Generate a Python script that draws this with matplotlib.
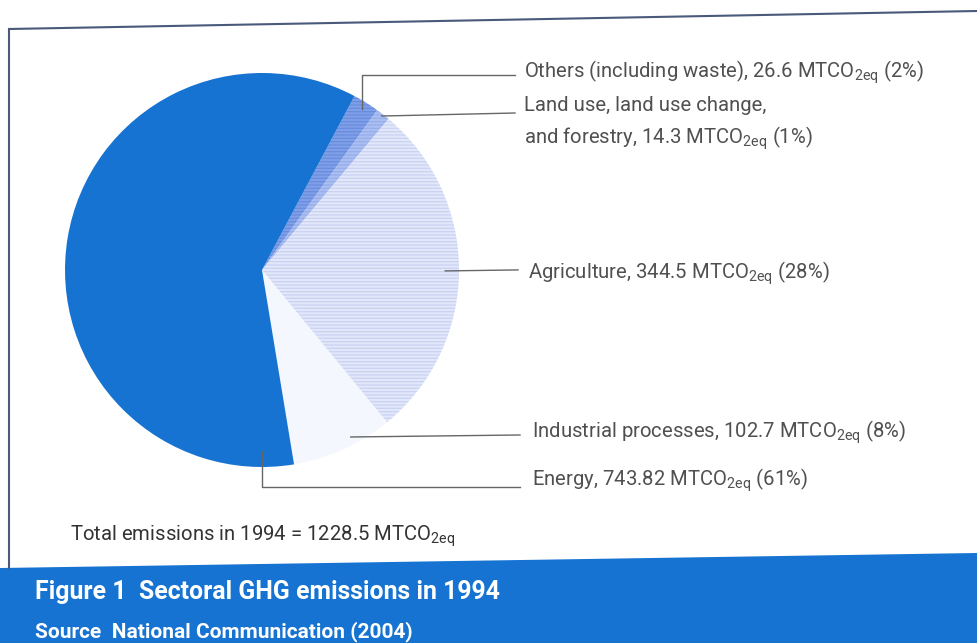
import numpy as np
import matplotlib
matplotlib.use("Agg")
import matplotlib.pyplot as plt
from matplotlib.patches import Polygon

plt.rcParams['font.family'] = ['Roboto', 'DejaVu Sans']
plt.rcParams['mathtext.default'] = 'regular'
plt.rcParams['hatch.linewidth'] = 0.9

# sectors, clockwise from the top
sectors = ['Others (including waste)', 'Land use, land use change,\nand forestry',
           'Agriculture', 'Industrial processes', 'Energy']
emissions = [26.6, 14.3, 344.5, 102.7, 743.82]
shares = [2, 1, 28, 8, 61]
value_text = ['26.6', '14.3', '344.5', '102.7', '743.82']
total = 1228.5

colors = ['#7f9fe6', '#aabef0', '#e2e8fa', '#f4f7fd', '#1673d1']
hatch_colors = ['#6a8ce0', '#97aeec', '#c9d3f3', '#f4f7fd', '#1673d1']
hatches = ['-----', '-----', '-----', None, None]

W, H = 977, 643
fig = plt.figure(figsize=(W / 100, H / 100), dpi=100)

# pie axes: centre (262, 270) px, radius 197 px
cx, cy, R = 262, 270, 197
pax = fig.add_axes([(cx - R) / W, (H - cy - R) / H, 2 * R / W, 2 * R / H])
wedges, _ = pax.pie(emissions, startangle=62, counterclock=False, radius=1.0,
                    colors=colors, wedgeprops=dict(linewidth=0))
for w, hc, h in zip(wedges, hatch_colors, hatches):
    w.set_edgecolor(hc)
    w.set_linewidth(0)
    if h:
        w.set_hatch(h)
pax.set_xlim(-1, 1)
pax.set_ylim(-1, 1)
pax.set_aspect('equal')
pax.axis('off')

# overlay in pixel coordinates for frame, leaders and captions
ov = fig.add_axes([0, 0, 1, 1], zorder=5)
ov.set_xlim(0, W)
ov.set_ylim(H, 0)
ov.axis('off')
ov.patch.set_alpha(0)

# frame and caption band
ov.plot([9, W], [29, 11], color='#4a5a7a', lw=1.5, solid_capstyle='butt')
ov.plot([9, 9], [29, 568], color='#4a5a7a', lw=1.5)
ov.add_patch(Polygon([(0, 568), (W, 553), (W, H), (0, H)], closed=True,
                     facecolor='#1673d1', edgecolor='none'))


def wedge_point(i, r, ang=None):
    w = wedges[i]
    if ang is None:
        ang = (w.theta1 + w.theta2) / 2
    a = np.deg2rad(ang)
    return cx + R * r * np.cos(a), cy - R * r * np.sin(a)


line_kw = dict(color='#666666', lw=1.0)
label_kw = dict(fontsize=14.6, color='#505050', va='center', ha='left')

# Others: elbow up then right
x0, y0 = wedge_point(0, 0.96)
ov.plot([x0, x0, 515], [y0, 75, 75], **line_kw)
# Land use
x0, y0 = wedge_point(1, 0.99)
ov.plot([x0, 515], [y0, 113], **line_kw)
# Agriculture
x0, y0 = wedge_point(2, 0.93)
ov.plot([x0, 518], [y0, y0 - 1], **line_kw)
# Industrial
x0, y0 = wedge_point(3, 0.96, ang=-62)
ov.plot([x0, 520], [y0, y0 - 2], **line_kw)
# Energy: elbow down then right
x0, y0 = wedge_point(4, 0.92, ang=-90)
ov.plot([x0, x0, 520], [y0, 487, 487], **line_kw)

sub = r'MTCO$_{2eq}$'
label_pos = [(524, 72), (524, 124), (528, 273), (532, 432), (532, 480)]
for name, val, sh, (lx, ly) in zip(sectors, value_text, shares, label_pos):
    ov.text(lx, ly, f'{name}, {val} {sub} ({sh}%)', linespacing=1.45, **label_kw)

ov.text(70, 536, f'Total emissions in 1994 = {total} {sub}', fontsize=14.6,
        color='#333333', va='center', ha='left')

ov.text(35, 592, 'Figure 1  Sectoral GHG emissions in 1994', fontsize=17.9,
        fontweight='bold', color='white', va='center', ha='left')
ov.text(35, 632, 'Source  National Communication (2004)', fontsize=15,
        fontweight='bold', color='white', va='center', ha='left')

fig.savefig('out.png', dpi=100, facecolor='white')
